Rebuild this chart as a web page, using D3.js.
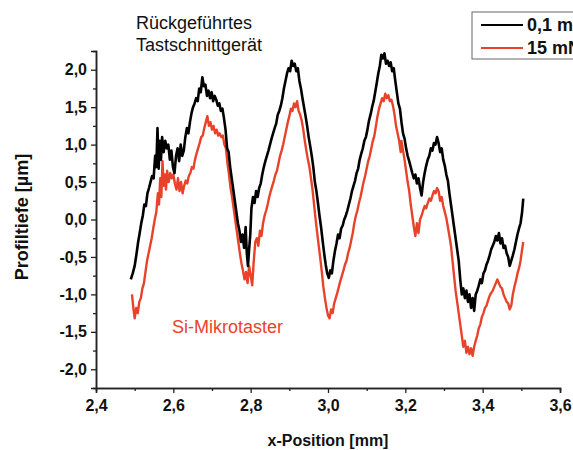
<!DOCTYPE html>
<html>
<head>
<meta charset="utf-8">
<script src="https://cdn.jsdelivr.net/npm/d3@7"></script>
<style>
  body { margin: 0; background: #fff; }
  text { font-family: "Liberation Sans", Arial, sans-serif; }
</style>
</head>
<body>
<svg width="573" height="450"></svg>
<script>
// profile traces [x in mm, depth in µm]
let blackProfile = [
  [2.490,-0.80],[2.495,-0.72],[2.500,-0.62],[2.505,-0.45],[2.509,-0.30],[2.513,-0.18],[2.517,-0.05],[2.521,0.05],
  [2.525,0.20],[2.529,0.18],[2.533,0.35],[2.537,0.42],[2.541,0.50],[2.545,0.58],[2.549,0.55],[2.553,0.85],
  [2.556,0.70],[2.559,1.22],[2.562,0.68],[2.565,1.05],[2.568,0.80],[2.571,1.10],[2.575,0.90],[2.579,1.05],
  [2.583,0.95],[2.587,1.00],[2.591,0.80],[2.595,0.92],[2.599,0.70],[2.603,0.62],[2.607,0.85],[2.611,0.95],
  [2.615,0.78],[2.619,1.00],[2.623,0.85],[2.627,0.92],[2.631,1.10],[2.635,1.22],[2.639,1.15],[2.643,1.30],
  [2.647,1.42],[2.651,1.50],[2.655,1.55],[2.659,1.62],[2.663,1.58],[2.667,1.75],[2.671,1.70],[2.675,1.90],
  [2.679,1.78],[2.683,1.80],[2.687,1.65],[2.691,1.72],[2.695,1.62],[2.699,1.70],[2.703,1.58],[2.707,1.65],
  [2.711,1.60],[2.715,1.52],[2.719,1.55],[2.723,1.45],[2.727,1.48],[2.731,1.35],[2.735,1.20],[2.739,0.95],
  [2.743,0.90],[2.747,0.70],[2.751,0.55],[2.755,0.40],[2.759,0.25],[2.763,0.10],[2.767,-0.05],[2.771,-0.15],
  [2.775,-0.30],[2.779,-0.20],[2.783,-0.38],[2.787,-0.10],[2.790,-0.45],[2.793,-0.62],[2.796,-0.40],[2.799,-0.20],
  [2.802,0.15],[2.806,0.30],[2.810,0.22],[2.814,0.38],[2.818,0.30],[2.822,0.42],[2.826,0.48],[2.830,0.60],
  [2.834,0.70],[2.838,0.78],[2.842,0.85],[2.846,0.92],[2.850,1.00],[2.854,1.08],[2.858,1.15],[2.862,1.22],
  [2.866,1.28],[2.870,1.40],[2.874,1.45],[2.878,1.52],[2.882,1.62],[2.886,1.75],[2.890,1.85],[2.894,1.95],
  [2.898,2.02],[2.902,1.98],[2.906,2.12],[2.910,2.05],[2.914,2.08],[2.918,1.98],[2.922,2.02],[2.926,1.85],
  [2.930,1.75],[2.934,1.62],[2.938,1.50],[2.942,1.38],[2.946,1.25],[2.950,1.10],[2.954,0.98],[2.958,0.85],
  [2.962,0.70],[2.966,0.50],[2.970,0.38],[2.974,0.22],[2.978,0.05],[2.982,-0.10],[2.986,-0.28],[2.990,-0.45],
  [2.994,-0.60],[2.998,-0.72],[3.002,-0.78],[3.006,-0.68],[3.010,-0.72],[3.014,-0.55],[3.018,-0.42],[3.022,-0.32],
  [3.026,-0.20],[3.030,-0.25],[3.034,-0.12],[3.038,-0.08],[3.042,0.00],[3.046,0.05],[3.050,0.12],[3.054,0.20],
  [3.058,0.28],[3.062,0.38],[3.066,0.45],[3.070,0.52],[3.074,0.62],[3.078,0.68],[3.082,0.80],[3.086,0.88],
  [3.090,0.95],[3.094,1.05],[3.098,1.10],[3.102,1.20],[3.106,1.32],[3.110,1.40],[3.114,1.50],[3.118,1.58],
  [3.122,1.70],[3.126,1.82],[3.130,1.95],[3.134,2.05],[3.138,2.20],[3.142,2.15],[3.146,2.22],[3.150,2.08],
  [3.154,2.12],[3.158,2.05],[3.162,2.10],[3.166,1.98],[3.170,2.02],[3.174,1.85],[3.178,1.70],[3.182,1.55],
  [3.186,1.48],[3.190,1.30],[3.194,1.15],[3.198,1.08],[3.202,0.95],[3.206,0.85],[3.210,0.78],[3.214,0.70],
  [3.218,0.62],[3.222,0.55],[3.226,0.60],[3.230,0.48],[3.234,0.55],[3.238,0.42],[3.242,0.32],[3.246,0.50],
  [3.250,0.62],[3.254,0.72],[3.258,0.80],[3.262,0.85],[3.266,0.95],[3.270,0.92],[3.274,1.02],[3.278,1.00],
  [3.282,1.10],[3.286,1.02],[3.290,0.90],[3.294,0.95],[3.298,0.80],[3.302,0.72],[3.306,0.60],[3.310,0.52],
  [3.314,0.35],[3.318,0.20],[3.322,0.05],[3.326,-0.10],[3.330,-0.25],[3.334,-0.40],[3.338,-0.55],[3.342,-0.80],
  [3.346,-1.00],[3.350,-0.92],[3.354,-1.05],[3.358,-0.95],[3.362,-1.10],[3.366,-1.00],[3.370,-1.18],[3.374,-1.05],
  [3.378,-1.22],[3.382,-1.00],[3.386,-0.95],[3.390,-0.88],[3.394,-0.80],[3.398,-0.85],[3.402,-0.72],[3.406,-0.68],
  [3.410,-0.60],[3.414,-0.55],[3.418,-0.48],[3.422,-0.40],[3.426,-0.35],[3.430,-0.30],[3.434,-0.22],[3.438,-0.28],
  [3.442,-0.18],[3.446,-0.32],[3.450,-0.25],[3.454,-0.38],[3.458,-0.35],[3.462,-0.45],[3.466,-0.50],[3.470,-0.62],
  [3.474,-0.55],[3.478,-0.48],[3.482,-0.40],[3.486,-0.30],[3.490,-0.20],[3.494,-0.12],[3.498,-0.05],[3.502,0.10],
  [3.505,0.28]
]

let redProfile = [
  [2.493,-1.00],[2.497,-1.20],[2.500,-1.32],[2.504,-1.18],[2.508,-1.25],[2.512,-1.10],[2.516,-1.05],[2.520,-0.92],
  [2.524,-0.85],[2.528,-0.70],[2.532,-0.55],[2.536,-0.45],[2.540,-0.35],[2.544,-0.25],[2.548,-0.12],[2.552,0.00],
  [2.556,0.10],[2.560,0.35],[2.563,0.20],[2.566,0.55],[2.569,0.30],[2.572,0.78],[2.575,0.45],[2.578,0.60],
  [2.581,0.40],[2.584,0.65],[2.588,0.50],[2.592,0.62],[2.596,0.55],[2.600,0.60],[2.604,0.48],[2.608,0.40],
  [2.612,0.55],[2.616,0.38],[2.620,0.50],[2.624,0.35],[2.628,0.45],[2.632,0.52],[2.636,0.48],[2.640,0.58],
  [2.644,0.62],[2.648,0.70],[2.652,0.68],[2.656,0.80],[2.660,0.88],[2.664,0.95],[2.668,1.02],[2.672,1.10],
  [2.676,1.12],[2.680,1.22],[2.684,1.30],[2.688,1.38],[2.692,1.25],[2.696,1.30],[2.700,1.20],[2.704,1.25],
  [2.708,1.15],[2.712,1.20],[2.716,1.12],[2.720,1.15],[2.724,1.10],[2.728,1.12],[2.732,1.00],[2.736,0.95],
  [2.740,0.75],[2.744,0.60],[2.748,0.42],[2.752,0.30],[2.756,0.15],[2.760,0.00],[2.764,-0.15],[2.768,-0.30],
  [2.772,-0.45],[2.776,-0.58],[2.780,-0.68],[2.784,-0.80],[2.788,-0.70],[2.792,-0.85],[2.796,-0.62],[2.800,-0.75],
  [2.804,-0.88],[2.808,-0.55],[2.812,-0.30],[2.816,-0.25],[2.820,-0.35],[2.824,-0.15],[2.828,-0.22],[2.832,-0.05],
  [2.836,0.05],[2.840,0.12],[2.844,0.20],[2.848,0.30],[2.852,0.38],[2.856,0.45],[2.860,0.52],[2.864,0.60],
  [2.868,0.65],[2.872,0.75],[2.876,0.85],[2.880,0.92],[2.884,1.00],[2.888,1.10],[2.892,1.20],[2.896,1.30],
  [2.900,1.38],[2.904,1.48],[2.908,1.45],[2.912,1.55],[2.916,1.50],[2.920,1.58],[2.924,1.45],[2.928,1.40],
  [2.932,1.32],[2.936,1.20],[2.940,1.05],[2.944,0.92],[2.948,0.80],[2.952,0.70],[2.956,0.55],[2.960,0.40],
  [2.964,0.20],[2.968,0.00],[2.972,-0.18],[2.976,-0.35],[2.980,-0.52],[2.984,-0.70],[2.988,-0.90],[2.992,-1.05],
  [2.996,-1.18],[3.000,-1.28],[3.004,-1.32],[3.008,-1.20],[3.012,-1.25],[3.016,-1.12],[3.020,-1.05],[3.024,-0.98],
  [3.028,-0.90],[3.032,-0.82],[3.036,-0.75],[3.040,-0.68],[3.044,-0.60],[3.048,-0.55],[3.052,-0.45],[3.056,-0.38],
  [3.060,-0.28],[3.064,-0.18],[3.068,-0.05],[3.072,0.05],[3.076,0.12],[3.080,0.22],[3.084,0.30],[3.088,0.40],
  [3.092,0.50],[3.096,0.58],[3.100,0.68],[3.104,0.78],[3.108,0.85],[3.112,0.95],[3.116,1.05],[3.120,1.12],
  [3.124,1.25],[3.128,1.38],[3.132,1.48],[3.136,1.55],[3.140,1.62],[3.144,1.58],[3.148,1.68],[3.152,1.62],
  [3.156,1.66],[3.160,1.58],[3.164,1.60],[3.168,1.52],[3.172,1.40],[3.176,1.25],[3.180,1.15],[3.184,1.05],
  [3.188,0.90],[3.190,1.05],[3.194,0.92],[3.198,0.80],[3.202,0.65],[3.206,0.50],[3.210,0.38],[3.214,0.20],
  [3.218,0.05],[3.222,-0.10],[3.226,-0.22],[3.230,-0.05],[3.234,-0.18],[3.238,0.00],[3.242,0.05],[3.246,0.12],
  [3.250,0.18],[3.254,0.15],[3.258,0.22],[3.262,0.28],[3.266,0.25],[3.270,0.32],[3.274,0.38],[3.278,0.35],
  [3.282,0.42],[3.286,0.38],[3.290,0.25],[3.294,0.30],[3.298,0.18],[3.302,0.10],[3.306,0.02],[3.310,-0.10],
  [3.314,-0.22],[3.318,-0.35],[3.322,-0.55],[3.326,-0.75],[3.330,-0.95],[3.334,-1.10],[3.338,-1.25],[3.342,-1.40],
  [3.346,-1.55],[3.350,-1.70],[3.354,-1.62],[3.358,-1.78],[3.362,-1.70],[3.366,-1.80],[3.370,-1.72],[3.374,-1.82],
  [3.378,-1.70],[3.382,-1.62],[3.386,-1.55],[3.390,-1.45],[3.394,-1.40],[3.398,-1.30],[3.402,-1.25],[3.406,-1.18],
  [3.410,-1.15],[3.414,-1.08],[3.418,-1.02],[3.422,-0.98],[3.426,-0.95],[3.430,-0.90],[3.434,-0.85],[3.438,-0.80],
  [3.442,-0.85],[3.446,-0.90],[3.450,-0.92],[3.454,-1.00],[3.458,-1.05],[3.462,-1.10],[3.466,-1.12],[3.470,-1.20],
  [3.474,-1.15],[3.478,-1.00],[3.482,-0.90],[3.486,-0.82],[3.490,-0.72],[3.494,-0.65],[3.498,-0.55],[3.502,-0.40],
  [3.505,-0.30]
]

let xTicks = [2.4, 2.6, 2.8, 3.0, 3.2, 3.4, 3.6]
let xMinorTicks = [2.5, 2.7, 2.9, 3.1, 3.3, 3.5]
let yTicks = [2.0, 1.5, 1.0, 0.5, 0.0, -0.5, -1.0, -1.5, -2.0]
let yMinorTicks = [1.75, 1.25, 0.75, 0.25, -0.25, -0.75, -1.25, -1.75]
let legendLabels = ['0,1 mN', '15 mN']
let seriesColors = ['#000000', '#e8432a']

let svg = d3.select('svg')

let x = d3.scaleLinear().domain([2.4, 3.6]).range([96, 560])
let y = d3.scaleLinear().domain([-2.25, 2.25]).range([388, 51])

let comma = f => v => d3.format(f)(v).replace('.', ',').replace('−', '-')

// minor ticks
svg.append('g')
    .attr('transform', 'translate(0,388)')
    .call(d3.axisBottom(x).tickValues(xMinorTicks).tickSize(3).tickFormat(''))
svg.append('g')
    .attr('transform', 'translate(96,0)')
    .call(d3.axisLeft(y).tickValues(yMinorTicks).tickSize(3).tickFormat(''))

let xAxis = svg.append('g')
    .attr('transform', 'translate(0,388)')
    .call(d3.axisBottom(x).tickValues(xTicks).tickSize(5).tickPadding(4).tickFormat(comma('.1f')))
let yAxis = svg.append('g')
    .attr('transform', 'translate(96,0)')
    .call(d3.axisLeft(y).tickValues(yTicks).tickSize(5).tickPadding(4).tickFormat(comma('.1f')))

svg.selectAll('.domain').attr('stroke', '#222').attr('stroke-width', 1.5)
svg.selectAll('.tick line').attr('stroke', '#222').attr('stroke-width', 1.3)
svg.selectAll('.tick text')
    .attr('font-size', 16)
    .attr('font-weight', 'bold')
    .attr('fill', '#111')
    .style('font-family', '"Liberation Sans", Arial, sans-serif')
xAxis.selectAll('.tick text').attr('dy', '0.9em')

let line = d3.line().x(d => x(d[0])).y(d => y(d[1]))

svg.append('path')
    .datum(redProfile)
    .attr('fill', 'none')
    .attr('stroke', seriesColors[1])
    .attr('stroke-width', 2.4)
    .attr('stroke-linejoin', 'round')
    .attr('d', line)

svg.append('path')
    .datum(blackProfile)
    .attr('fill', 'none')
    .attr('stroke', seriesColors[0])
    .attr('stroke-width', 2.6)
    .attr('stroke-linejoin', 'round')
    .attr('d', line)

// axis titles
svg.append('text')
    .attr('x', 328).attr('y', 446)
    .attr('text-anchor', 'middle')
    .attr('font-size', 16).attr('font-weight', 'bold').attr('fill', '#111')
    .text('x-Position [mm]')
svg.append('text')
    .attr('transform', 'translate(28,217) rotate(-90)')
    .attr('text-anchor', 'middle')
    .attr('font-size', 18).attr('font-weight', 'bold').attr('fill', '#111')
    .text('Profiltiefe [µm]')

// annotations
svg.append('text')
    .attr('x', 136).attr('y', 29)
    .attr('font-size', 18).attr('fill', '#111')
    .text('Rückgeführtes')
svg.append('text')
    .attr('x', 136).attr('y', 51)
    .attr('font-size', 18).attr('fill', '#111')
    .text('Tastschnittgerät')
svg.append('text')
    .attr('x', 172).attr('y', 333)
    .attr('font-size', 18).attr('fill', seriesColors[1])
    .text('Si-Mikrotaster')

// legend
let legend = svg.append('g').attr('transform', 'translate(472,12)')
legend.append('rect')
    .attr('width', 130).attr('height', 47)
    .attr('fill', '#fff').attr('stroke', '#666').attr('stroke-width', 1)
legendLabels.forEach((label, i) => {
  legend.append('line')
      .attr('x1', 9).attr('x2', 51)
      .attr('y1', 13 + i * 23).attr('y2', 13 + i * 23)
      .attr('stroke', seriesColors[i]).attr('stroke-width', 2.2)
  legend.append('text')
      .attr('x', 55).attr('y', 19 + i * 23)
      .attr('font-size', 18).attr('font-weight', 'bold').attr('fill', '#111')
      .text(label)
})
</script>
</body>
</html>
